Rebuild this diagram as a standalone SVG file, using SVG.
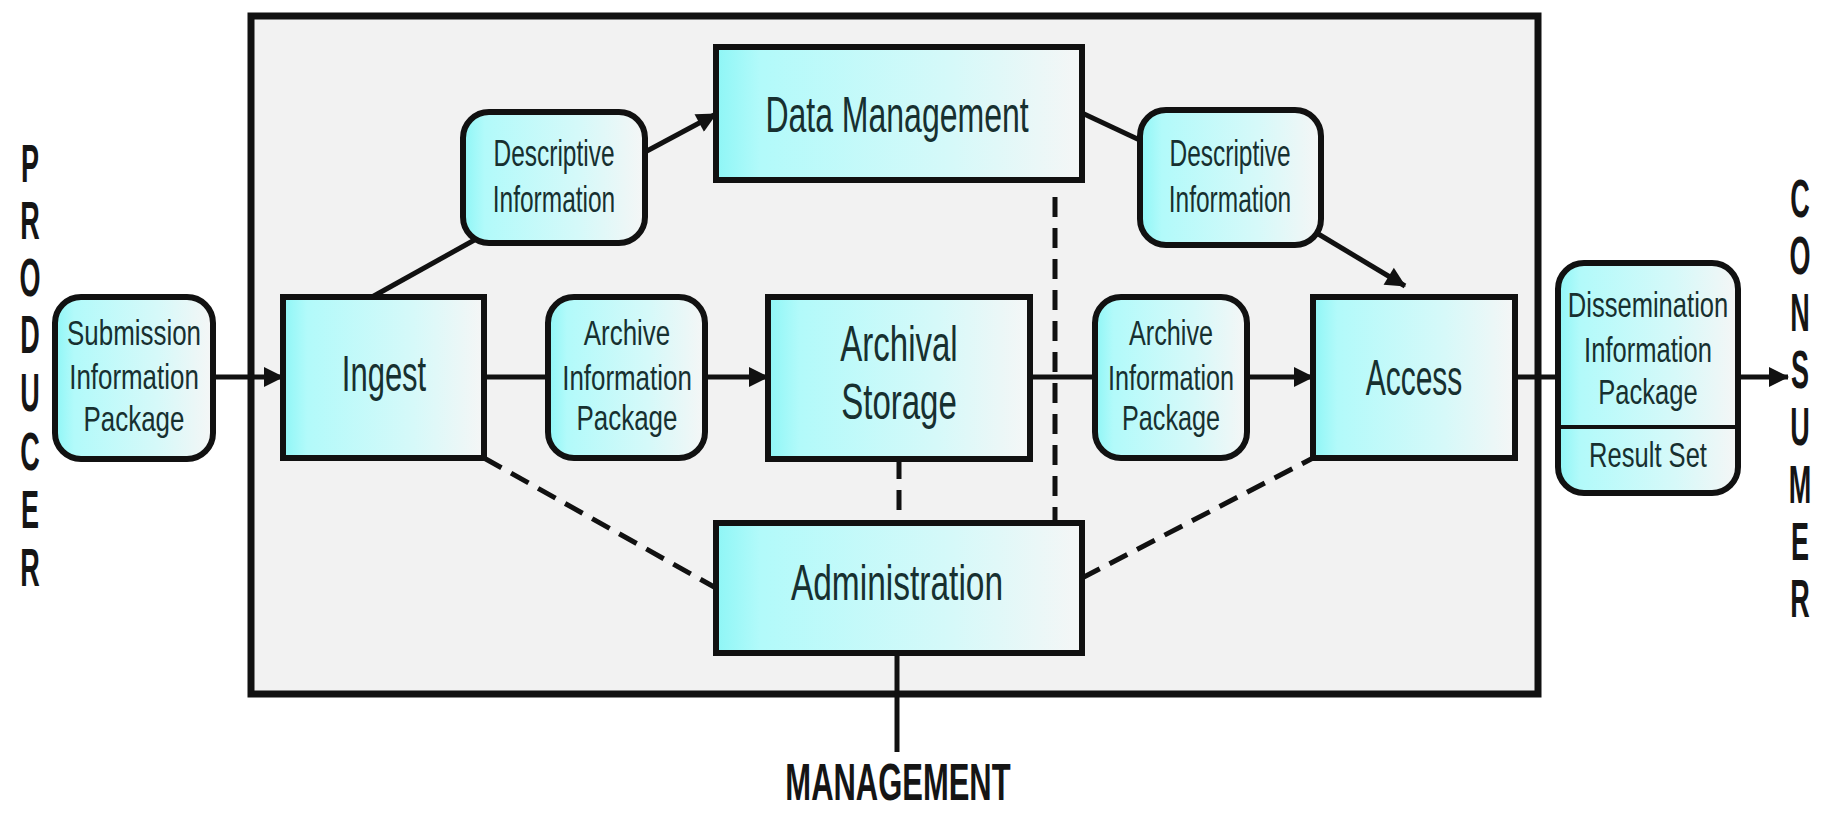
<svg xmlns="http://www.w3.org/2000/svg" width="1835" height="818" viewBox="0 0 1835 818">
<defs>
<linearGradient id="cy" x1="0" y1="0" x2="1" y2="0">
<stop offset="0" stop-color="#8ef6f6"/>
<stop offset="0.12" stop-color="#b2fafa"/>
<stop offset="0.65" stop-color="#d6f9f9"/>
<stop offset="1" stop-color="#f5f6f6"/>
</linearGradient>
<marker id="ah" viewBox="0 0 20 20" refX="19" refY="10" markerWidth="22" markerHeight="20" markerUnits="userSpaceOnUse" orient="auto">
<path d="M0,0 L20,10 L0,20 z" fill="#111"/>
</marker>
<style>
.box{fill:url(#cy);stroke:#111;stroke-width:6}
.t{font-family:"Liberation Sans",Arial,sans-serif;fill:#173030;text-anchor:middle;font-size:50px}
.s{font-size:36px}
.b{font-family:"Liberation Sans",Arial,sans-serif;font-weight:bold;fill:#151515;text-anchor:middle;font-size:36px}
.c{stroke:#111;stroke-width:5;fill:none}
.d{stroke:#111;stroke-width:5;fill:none;stroke-dasharray:20 11}
.a{marker-end:url(#ah)}
</style>
</defs>
<rect width="1835" height="818" fill="#ffffff"/>
<g id="container">
<rect x="251" y="16" width="1287" height="678" fill="#f2f2f2" stroke="#111" stroke-width="7"/>
</g>
<g id="producer">
<text class="b" transform="translate(30,182) scale(0.75,1.5)">P</text>
<text class="b" transform="translate(30,239) scale(0.75,1.5)">R</text>
<text class="b" transform="translate(30,296) scale(0.75,1.5)">O</text>
<text class="b" transform="translate(30,353) scale(0.75,1.5)">D</text>
<text class="b" transform="translate(30,411) scale(0.75,1.5)">U</text>
<text class="b" transform="translate(30,470) scale(0.75,1.5)">C</text>
<text class="b" transform="translate(30,528) scale(0.75,1.5)">E</text>
<text class="b" transform="translate(30,586) scale(0.75,1.5)">R</text>
</g>
<g id="consumer">
<text class="b" transform="translate(1800,217) scale(0.75,1.5)">C</text>
<text class="b" transform="translate(1800,274) scale(0.75,1.5)">O</text>
<text class="b" transform="translate(1800,331) scale(0.75,1.5)">N</text>
<text class="b" transform="translate(1800,388) scale(0.75,1.5)">S</text>
<text class="b" transform="translate(1800,445) scale(0.75,1.5)">U</text>
<text class="b" transform="translate(1800,503) scale(0.75,1.5)">M</text>
<text class="b" transform="translate(1800,560) scale(0.75,1.5)">E</text>
<text class="b" transform="translate(1800,617) scale(0.75,1.5)">R</text>
</g>
<g id="connectors">
<line class="c a" x1="213" y1="377" x2="283" y2="377"/>
<line class="c" x1="484" y1="377" x2="548" y2="377"/>
<line class="c a" x1="705" y1="377" x2="768" y2="377"/>
<line class="c" x1="1030" y1="377" x2="1095" y2="377"/>
<line class="c a" x1="1247" y1="377" x2="1313" y2="377"/>
<line class="c" x1="1515" y1="377" x2="1558" y2="377"/>
<line class="c a" x1="1738" y1="377" x2="1788" y2="377"/>
<line class="c" x1="372" y1="297" x2="478" y2="238"/>
<line class="c a" x1="645" y1="152" x2="716" y2="114"/>
<line class="c" x1="1082" y1="113" x2="1146" y2="143"/>
<line class="c a" x1="1315" y1="232" x2="1405" y2="286"/>
<line class="d" x1="484" y1="458" x2="716" y2="588"/>
<line class="d" x1="1082" y1="578" x2="1313" y2="458"/>
<line class="d" x1="899" y1="459" x2="899" y2="523"/>
<line class="d" x1="1055" y1="197" x2="1055" y2="523"/>
<line class="c" x1="897" y1="653" x2="897" y2="752"/>
</g>
<g id="sip">
<rect class="box" x="55" y="297" width="158" height="162" rx="26"/>
<text class="t s" transform="translate(134,345) scale(0.72,1)">Submission</text>
<text class="t s" transform="translate(134,389) scale(0.72,1)">Information</text>
<text class="t s" transform="translate(134,431) scale(0.72,1)">Package</text>
</g>
<g id="ingest">
<rect class="box" x="283" y="297" width="201" height="161"/>
<text class="t" transform="translate(384,391) scale(0.62,1)">Ingest</text>
</g>
<g id="desc-info-1">
<rect class="box" x="463" y="112" width="182" height="131" rx="26"/>
<text class="t s" transform="translate(554,166) scale(0.68,1)">Descriptive</text>
<text class="t s" transform="translate(554,212) scale(0.68,1)">Information</text>
</g>
<g id="data-management">
<rect class="box" x="716" y="47" width="366" height="133"/>
<text class="t" transform="translate(897,132) scale(0.64,1)">Data Management</text>
</g>
<g id="desc-info-2">
<rect class="box" x="1140" y="110" width="181" height="135" rx="26"/>
<text class="t s" transform="translate(1230,166) scale(0.68,1)">Descriptive</text>
<text class="t s" transform="translate(1230,212) scale(0.68,1)">Information</text>
</g>
<g id="aip-1">
<rect class="box" x="548" y="297" width="157" height="161" rx="26"/>
<text class="t s" transform="translate(627,345) scale(0.72,1)">Archive</text>
<text class="t s" transform="translate(627,390) scale(0.72,1)">Information</text>
<text class="t s" transform="translate(627,430) scale(0.72,1)">Package</text>
</g>
<g id="archival-storage">
<rect class="box" x="768" y="297" width="262" height="162"/>
<text class="t" transform="translate(899,361) scale(0.66,1)">Archival</text>
<text class="t" transform="translate(899,419) scale(0.66,1)">Storage</text>
</g>
<g id="aip-2">
<rect class="box" x="1095" y="297" width="152" height="161" rx="26"/>
<text class="t s" transform="translate(1171,345) scale(0.7,1)">Archive</text>
<text class="t s" transform="translate(1171,390) scale(0.7,1)">Information</text>
<text class="t s" transform="translate(1171,430) scale(0.7,1)">Package</text>
</g>
<g id="access">
<rect class="box" x="1313" y="297" width="202" height="161"/>
<text class="t" transform="translate(1414,395) scale(0.6,1)">Access</text>
</g>
<g id="dip">
<rect class="box" x="1558" y="263" width="180" height="230" rx="26"/>
<line x1="1558" y1="427" x2="1738" y2="427" stroke="#111" stroke-width="4"/>
<text class="t s" transform="translate(1648,317) scale(0.71,1)">Dissemination</text>
<text class="t s" transform="translate(1648,362) scale(0.71,1)">Information</text>
<text class="t s" transform="translate(1648,404) scale(0.71,1)">Package</text>
<text class="t s" transform="translate(1648,467) scale(0.71,1)">Result Set</text>
</g>
<g id="administration">
<rect class="box" x="716" y="523" width="366" height="130"/>
<text class="t" transform="translate(897,600) scale(0.67,1)">Administration</text>
</g>
<g id="management">
<text class="b" transform="translate(898,800) scale(0.86,1.42)">MANAGEMENT</text>
</g>
</svg>
